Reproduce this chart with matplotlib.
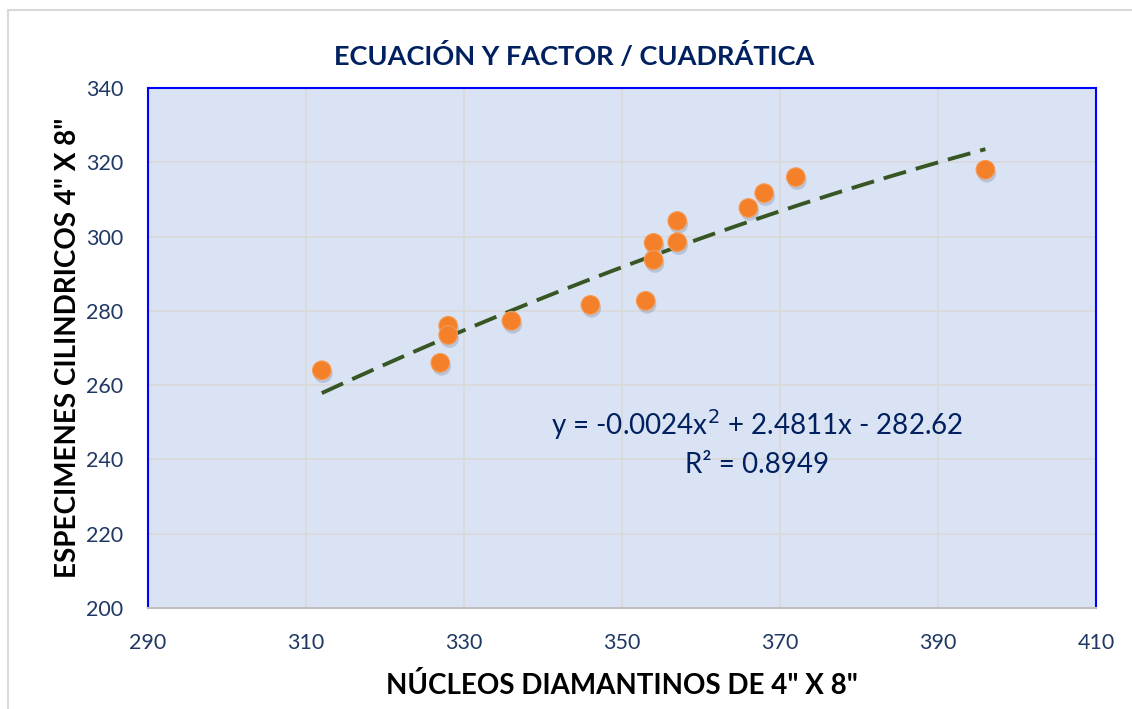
import numpy as np
import matplotlib.pyplot as plt
import matplotlib.patheffects as pe
from matplotlib.patches import Rectangle

plt.rcParams['font.family'] = ['Lato', 'DejaVu Sans']

# data
nucleos = [312, 327, 328, 328, 336, 346, 353, 354, 354, 357, 357, 366, 368, 372, 396]
especimenes = [264, 266, 276, 273.5, 277.3, 281.6, 282.7, 298.3, 293.7, 304.2, 298.5, 307.7, 311.7, 316, 318]
coefs = [-0.0024, 2.4811, -282.62]  # quadratic trend line
r2 = 0.8949

navy = "#002060"
tick_col = "#1F3864"

fig = plt.figure(figsize=(11.32, 7.09), dpi=100)
fig.patches.append(Rectangle((8/1132, -0.1), 1.2, 1 - 10/709 + 0.1, transform=fig.transFigure,
                             fill=False, edgecolor="#D9D9D9", lw=1.5))
ax = fig.add_axes([148/1132, 1 - 608/709, (1096 - 148)/1132, (608 - 88)/709])
ax.set_facecolor("#DAE3F3")

xs = np.linspace(min(nucleos), max(nucleos), 200)
ax.plot(xs, np.polyval(coefs, xs), color="#375623", lw=2.8, dashes=(6, 2.6), zorder=3)

ax.scatter(nucleos, especimenes, s=180, color="#F4812A", edgecolor="#F79A55", linewidth=0.8, zorder=4,
           path_effects=[pe.SimplePatchShadow(offset=(1, -2.5), shadow_rgbFace="#6A7A98", alpha=0.3),
                         pe.Normal()])

ax.set_xlim(290, 410)
ax.set_ylim(200, 340)
ax.set_xticks(range(290, 411, 20))
ax.set_yticks(range(200, 341, 20))
ax.grid(True, color="#D9D9D9", lw=1.2)
ax.set_axisbelow(True)
ax.tick_params(length=0, labelsize=15.5, labelcolor=tick_col)
ax.tick_params(axis='y', pad=18)
ax.tick_params(axis='x', pad=18)

for s in ["top", "left", "right"]:
    ax.spines[s].set_color("#0000FF")
    ax.spines[s].set_linewidth(1.5)
ax.spines["bottom"].set_color("#BFBFBF")
ax.spines["bottom"].set_linewidth(1.5)

ax.text(367.1, 249.3, "y = -0.0024x$^2$ + 2.4811x - 282.62", ha="center", va="center",
        fontsize=20, color=navy)
ax.text(367.1, 238.5, "R² = %.4f" % r2, ha="center", va="center", fontsize=20, color=navy)

fig.text(574/1132, 1 - 56/709, "ECUACIÓN Y FACTOR / CUADRÁTICA", ha="center", va="center",
         fontsize=19.5, fontweight="bold", color=navy)
ax.set_xlabel('NÚCLEOS DIAMANTINOS DE 4" X 8"', fontsize=20, fontweight="bold", color="black", labelpad=14)
ax.set_ylabel('ESPECIMENES CILINDRICOS 4" X 8"', fontsize=20, fontweight="bold", color="black", labelpad=3)

fig.savefig("out.png", dpi=100)
